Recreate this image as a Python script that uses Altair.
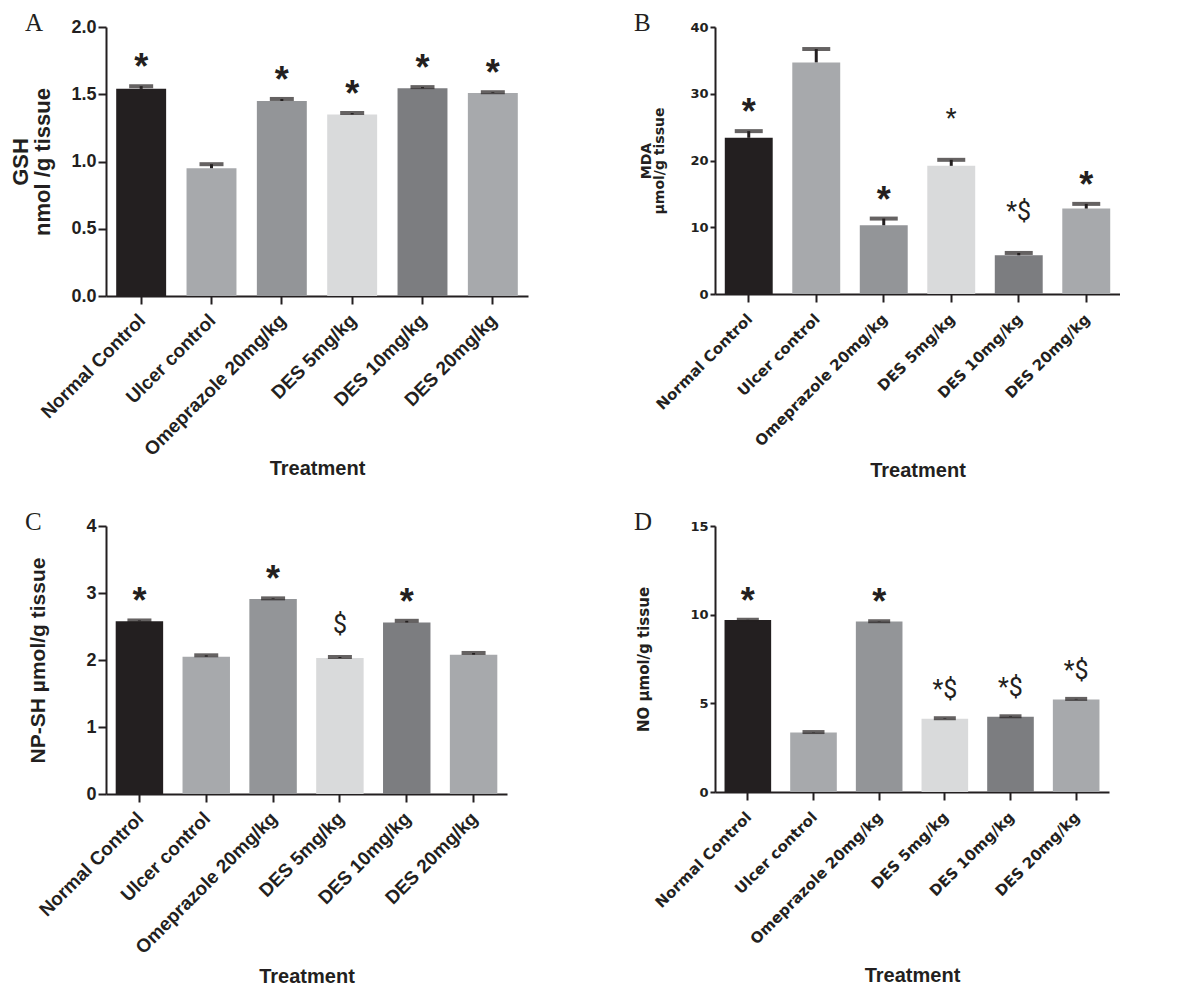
import altair as alt
import pandas as pd

categories = ["Normal Control", "Ulcer control", "Omeprazole 20mg/kg",
              "DES 5mg/kg", "DES 10mg/kg", "DES 20mg/kg"]
bar_colors = ["#231f20", "#a7a9ac", "#939598", "#d9dadb", "#7c7d80", "#a7a9ac"]

# Panel A - GSH
gsh_mean = [1.54, 0.95, 1.45, 1.35, 1.545, 1.51]
gsh_err = [0.02, 0.03, 0.015, 0.01, 0.008, 0.005]
gsh_sig_sans = ["*", "", "*", "*", "*", "*"]
gsh_sig_serif = ["", "", "", "", "", ""]

# Panel B - MDA
mda_mean = [23.4, 34.7, 10.3, 19.2, 5.8, 12.8]
mda_err = [1.0, 2.0, 1.0, 0.9, 0.35, 0.7]
mda_sig_sans = ["*", "", "*", "", "", "*"]
mda_sig_serif = ["", "", "", "*", "*$", ""]

# Panel C - NP-SH
npsh_mean = [2.58, 2.05, 2.91, 2.03, 2.56, 2.08]
npsh_err = [0.01, 0.02, 0.01, 0.015, 0.025, 0.025]
npsh_sig_sans = ["*", "", "*", "", "*", ""]
npsh_sig_serif = ["", "", "", "$", "", ""]

# Panel D - NO
no_mean = [9.70, 3.36, 9.61, 4.13, 4.24, 5.22]
no_err = [0.01, 0.02, 0.02, 0.03, 0.03, 0.03]
no_sig_sans = ["*", "", "*", "", "", ""]
no_sig_serif = ["", "", "", "*$", "*$", "*$"]

INK = "#231f20"


def panel(letter, means, errs, sans, serif, ytitle, ymax, yvals, fmt,
          w, h, big, ytitle_x, xtitle_y, serif_dy, cap_size, ytitle_lh,
          xlab_pad):
    df = pd.DataFrame({"Treatment": categories, "value": means, "err": errs,
                       "sans": sans, "serif": serif})
    df["hi"] = df["value"] + df["err"]
    if big:
        lab_font, xlab_size, ylab_size = "Liberation Sans", 19, 18
        ytitle_font, ytitle_size = "Liberation Sans", (22 if letter == "A" else 21)
        ytick = 8
    else:
        lab_font, xlab_size, ylab_size = "DejaVu Sans", 15, 13
        ytitle_font, ytitle_size = "DejaVu Sans", (14 if letter == "B" else 15)
        ytick = 5
    xaxis = alt.Axis(
        title="Treatment", titleFont="Liberation Sans", titleFontSize=20,
        titleFontWeight="bold", titleColor=INK, titleY=xtitle_y,
        titleBaseline="middle",
        labelFont=lab_font, labelFontWeight="bold", labelFontSize=xlab_size,
        labelColor=INK, labelAngle=-45, labelAlign="right",
        labelBaseline="middle", labelPadding=xlab_pad, labelOffset=1,
        tickSize=8, tickWidth=2, tickColor=INK, domainWidth=2,
        domainColor=INK, labelLimit=400)
    yaxis = alt.Axis(
        title=ytitle, titleFont=ytitle_font, titleFontSize=ytitle_size,
        titleFontWeight="bold", titleColor=INK, titleX=ytitle_x,
        titleY=h / 2, titleLineHeight=ytitle_lh,
        values=yvals, format=fmt, labelFont=lab_font, labelFontWeight="bold",
        labelFontSize=ylab_size, labelColor=INK, labelPadding=2,
        tickSize=ytick, tickWidth=2, tickColor=INK, domainWidth=2,
        domainColor=INK, grid=False)
    base = alt.Chart(df).encode(
        x=alt.X("Treatment:N", sort=categories,
                scale=alt.Scale(paddingInner=0.29, paddingOuter=0.145),
                axis=xaxis))
    yscale = alt.Scale(domain=[0, ymax], nice=False)
    bars = base.mark_bar().encode(
        y=alt.Y("value:Q", scale=yscale, axis=yaxis),
        color=alt.Color("Treatment:N", scale=alt.Scale(domain=categories,
                        range=bar_colors), legend=None))
    stem = base.mark_rule(strokeWidth=3, color=INK).encode(
        y=alt.Y("value:Q"), y2="hi:Q")
    caps = base.mark_tick(thickness=4, size=cap_size, color=INK).encode(
        y=alt.Y("hi:Q"))
    sans_t = base.transform_filter("datum.sans != ''").mark_text(
        font="Liberation Sans", fontWeight="bold", fontSize=36,
        baseline="alphabetic", dy=-7, color=INK).encode(
        y=alt.Y("hi:Q"), text="sans:N")
    serif_t = base.transform_filter("datum.serif != ''").mark_text(
        font="Roboto", fontSize=25, baseline="alphabetic", dy=serif_dy,
        color=INK).encode(y=alt.Y("hi:Q"), text="serif:N")
    let = alt.Chart(pd.DataFrame({"letter": [letter]})).mark_text(
        font="Liberation Serif", fontSize=25, align="left", baseline="top",
        color=INK).encode(x=alt.value(-81), y=alt.value(-16), text="letter:N")
    return alt.layer(bars, stem, caps, sans_t, serif_t, let).properties(
        width=w, height=h)


pA = panel("A", gsh_mean, gsh_err, gsh_sig_sans, gsh_sig_serif,
           ["GSH", "nmol /g tissue"], 2.0, [0, 0.5, 1.0, 1.5, 2.0], ".1f",
           422, 269, True, -74, 172, -20, 24, 22, 13)
pB = panel("B", mda_mean, mda_err, mda_sig_sans, mda_sig_serif,
           ["MDA", "µmol/g tissue"], 40, [0, 10, 20, 30, 40], "d",
           405, 267, False, -62, 176, -33, 28, 13, 14)
pC = panel("C", npsh_mean, npsh_err, npsh_sig_sans, npsh_sig_serif,
           "NP-SH µmol/g tissue", 4, [0, 1, 2, 3, 4], "d",
           401, 268, True, -58, 182, -24, 24, 21, 13)
pD = panel("D", no_mean, no_err, no_sig_sans, no_sig_serif,
           "NO µmol/g tissue", 15, [0, 5, 10, 15], "d",
           394, 266, False, -64, 183, -20, 22, 15, 14)

chart = alt.concat(pA, pB, pC, pD, columns=2,
                   spacing={"row": 230, "column": 187},
                   bounds="flush").properties(
    padding={"left": 0, "top": 3, "right": 0, "bottom": 0}).configure_view(
    stroke=None)

chart.save("out.html", embed_options={"renderer": "svg", "actions": False})
